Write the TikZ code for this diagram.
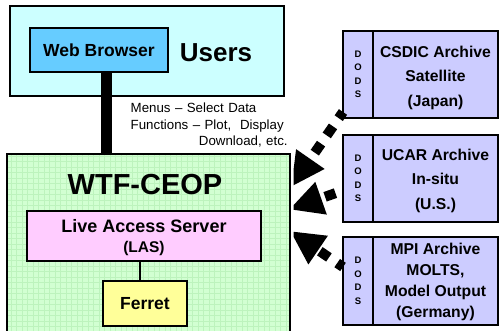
\documentclass[tikz,border=0pt]{standalone}
\usepackage{fontspec}
\setmainfont{Liberation Sans}
\usetikzlibrary{positioning,arrows.meta}
\definecolor{userblue}{HTML}{CCFFFF}
\definecolor{webblue}{HTML}{66CCFF}
\definecolor{ceopgreen}{HTML}{D2FFD2}
\definecolor{gridgreen}{HTML}{BDF3BD}
\definecolor{laspink}{HTML}{FFCCFF}
\definecolor{ferretyellow}{HTML}{FFFF99}
\definecolor{archlilac}{HTML}{CCCCFF}
\newcommand{\setfs}[2]{\fontsize{#1}{#2}\selectfont}
\newcommand{\capstrut}[1]{\rule{0pt}{#1}}

\begin{document}
\begin{tikzpicture}[x=1pt,y=-1pt,
	box/.style={draw=black,line width=1.5pt,inner sep=0pt,outer sep=0pt,align=center},
	dodsbox/.style={box,fill=archlilac,minimum width=30pt,font=\bfseries\setfs{9.5}{13.5}},
	archbox/.style={box,fill=archlilac,minimum width=125pt,font=\bfseries\setfs{15.7}{24.5}},
	feed/.style={line width=10pt,dash pattern=on 11pt off 10pt,-{Triangle[length=34pt,width=32pt]}}]
	\useasboundingbox (0,0) rectangle (499,331);

	% users side
	\node[box,fill=userblue,minimum width=274pt,minimum height=90pt] (users) at (147,51) {};
	\node[font=\bfseries\setfs{26}{30}] (userslbl) at (216,53) {Users};
	\node[box,fill=webblue,minimum width=138pt,minimum height=44pt,font=\bfseries\setfs{17.5}{20}] (web) at (99,50) {Web Browser};

	% server side
	\node[box,line width=2pt,fill=ceopgreen,minimum width=283pt,minimum height=191pt,
		path picture={\draw[gridgreen,line width=0.4pt] (path picture bounding box.south west) grid[step=5.5pt] (path picture bounding box.north east);}] (wtf) at (148.5,249.5) {};
	\node[font=\bfseries\setfs{29}{34}] (wtflbl) at (145,185) {WTF-CEOP};
	\node[box,fill=laspink,minimum width=234pt,minimum height=50pt] (las) at (144,236) {};
	\node[align=center,font=\bfseries\setfs{18}{20}] (laslbl) at (144,238) {Live Access Server\\{\setfs{15.5}{20}(LAS)}};
	\node[box,fill=ferretyellow,minimum width=84pt,minimum height=45pt,font=\bfseries\setfs{17.5}{20}] (ferret) at (145,303.5) {Ferret};

	\draw[line width=11pt] ([xshift=7.5pt]web.south) -- ([xshift=7.5pt]web.south |- wtf.north);
	\draw[line width=1.3pt] ([xshift=-4pt]las.south) -- ([xshift=-5pt]ferret.north);
	\node[anchor=north west,inner sep=0pt,text width=157pt,align=left,font=\setfs{13.3}{16.5},
		execute at begin node={\hyphenpenalty=10000\relax}] (menus) at (130.5,103)
		{Menus -- Select Data\\Functions -- Plot,\ \ Display\\\hfill Download, etc.};

	% archives
	\node[dodsbox,minimum height=87pt] (dods1) at (358,74.5) {D\\O\\D\\S};
	\node[archbox,minimum height=87pt,right=0pt of dods1] (csdic) {\capstrut{17.5pt}CSDIC Archive\\Satellite\\(Japan)};
	\node[dodsbox,minimum height=87pt] (dods2) at (358,178.5) {D\\O\\D\\S};
	\node[archbox,minimum height=87pt,right=0pt of dods2] (ucar) {\capstrut{16pt}UCAR Archive\\In-situ\\(U.S.)};
	\node[dodsbox,minimum height=88pt] (dods3) at (358,281) {D\\O\\D\\S};
	\node[archbox,minimum height=88pt,font=\bfseries\setfs{15.7}{21},right=0pt of dods3] (mpi) {\capstrut{13pt}MPI Archive\\MOLTS,\\Model Output\\(Germany)};

	\coordinate (in1) at (291,187);
	\coordinate (in2) at (289,209.5);
	\coordinate (in3) at (290,231);
	\begin{scope}
		\clip (293.5,0) rectangle (499,331);
		\draw[feed,dash phase=3.5pt] ([yshift=6pt]dods1.south west) -- (in1);
		\draw[feed,dash phase=13pt] ([yshift=-12pt]dods2.west) -- (in2);
		\draw[feed,dash phase=4pt] ([yshift=14pt]dods3.west) -- (in3);
	\end{scope}
\end{tikzpicture}
\end{document}
